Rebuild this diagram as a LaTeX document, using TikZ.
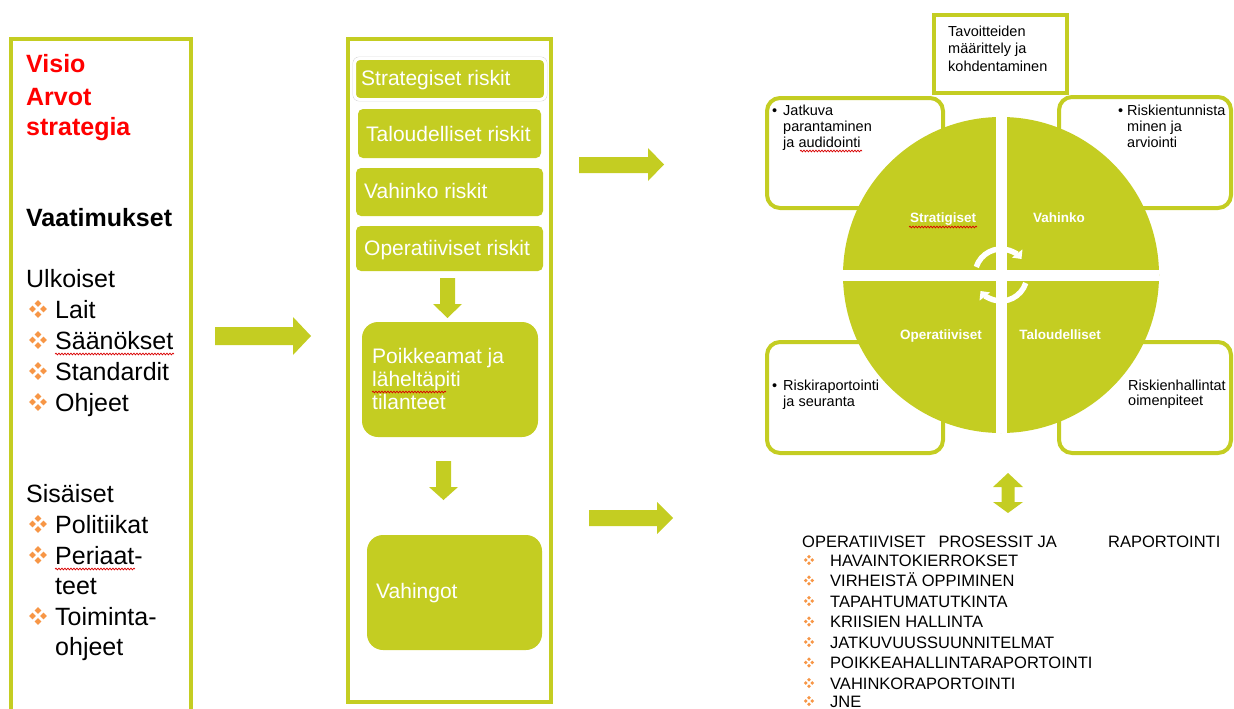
\documentclass[tikz,border=0pt]{standalone}
\usepackage{fontspec}
\setmainfont{Liberation Sans}
\usetikzlibrary{arrows.meta,decorations.pathmorphing,calc}
\definecolor{lime}{RGB}{196,205,34}
\definecolor{bulor}{RGB}{247,150,70}
\tikzset{
  quad/.pic={\foreach \dx/\dy in {-5/0,5/0,0/-5,0/5}{\fill[bulor] (\dx-3,\dy) -- (\dx,\dy-3) -- (\dx+3,\dy) -- (\dx,\dy+3) -- cycle;}},
  frame/.style={draw=lime, line width=4pt},
  big/.style={anchor=base west, inner sep=0pt, font=\fontsize{25}{30}\selectfont},
  bigb/.style={anchor=base west, inner sep=0pt, font=\fontsize{25}{30}\selectfont\bfseries},
  mid/.style={anchor=base west, inner sep=0pt, text=white, font=\fontsize{21}{25}\selectfont},
  small/.style={anchor=base west, inner sep=0pt, font=\fontsize{14.5}{17}\selectfont},
  qlbl/.style={anchor=base, inner sep=0pt, text=white, font=\fontsize{13.5}{16}\selectfont\bfseries},
  lst/.style={anchor=base west, inner sep=0pt, font=\fontsize{16.5}{20}\selectfont},
  rbox/.style={draw=lime, line width=4pt, fill=white, rounded corners=13pt},
  riskbox/.style={fill=lime, rounded corners=5pt},
  bigbox/.style={fill=lime, rounded corners=16pt},
  squig/.style={draw=red!85!black, line width=0.7pt, decorate, decoration={snake, amplitude=0.9pt, segment length=3pt}},
  rot/.style={draw=white, line width=5.5pt, -{Triangle[width=13pt,length=7pt]}}
}
\begin{document}
\begin{tikzpicture}[x=1pt,y=-1pt]
\useasboundingbox (0,0) rectangle (1234,709);

% ---------- left column ----------
\draw[frame] (11,715) -- (11,39) -- (191,39) -- (191,715);
\node[bigb, text=red] (visio) at (26,73) {Visio};
\node[bigb, text=red] (arvot) at (26,105) {Arvot};
\node[bigb, text=red] (strategia) at (26,135) {strategia};
\node[bigb] (vaat) at (26,226) {Vaatimukset};
\node[big] (ulk) at (26,287) {Ulkoiset};
\foreach \t/\y [count=\i] in {Lait/318,Säänökset/349,Standardit/380,Ohjeet/411}{
  \node[big] (u\i) at (55,\y) {\t};
  \pic[scale=1.1] at (38,\y-9) {quad};
}
\node[big] (sis) at (26,502) {Sisäiset};
\foreach \t/\y [count=\i] in {Politiikat/533,Periaat-/564,Toiminta-/625}{
  \node[big] (s\i) at (55,\y) {\t};
  \pic[scale=1.1] at (38,\y-9) {quad};
}
\node[big] (s2b) at (55,594) {teet};
\node[big] (s3b) at (55,655) {ohjeet};
\draw[squig] (55,354) -- (174,354);
\draw[squig] (55,569) -- (135,569);

% arrow left -> middle
\fill[lime] (215,327) -- (293,327) -- (293,317) -- (311,336) -- (293,355) -- (293,345) -- (215,345) -- cycle;

% ---------- middle column ----------
\draw[frame] (348,39) rectangle (551,702);
\draw[draw=gray!30, line width=0.6pt, rounded corners=6pt] (353,57) rectangle (547,101);
\draw[white, line width=3pt, fill=lime, rounded corners=5pt] (354.5,58.5) rectangle (545.5,99.5);
\fill[riskbox] (358,109) rectangle (541,158);
\fill[riskbox] (356,168) rectangle (543,216);
\fill[riskbox] (356,226) rectangle (543,271);
\node[mid] (r1) at (361,85) {Strategiset riskit};
\node[mid] (r2) at (366,141) {Taloudelliset riskit};
\node[mid] (r3) at (364,198) {Vahinko riskit};
\node[mid] (r4) at (364,255) {Operatiiviset riskit};
% down arrow 1
\fill[lime] (440,278) -- (455,278) -- (455,304) -- (462,304) -- (447.5,318) -- (433,304) -- (440,304) -- cycle;
\fill[bigbox] (362,322) rectangle (538,437);
\node[mid] (p1) at (372,363) {Poikkeamat ja};
\node[mid] (p2) at (372,386) {läheltäpiti};
\node[mid] (p3) at (372,409) {tilanteet};
\draw[squig] (372,392) -- (446,392);
% down arrow 2
\fill[lime] (436,461) -- (451,461) -- (451,487) -- (458,487) -- (443.5,500) -- (429,487) -- (436,487) -- cycle;
\fill[bigbox] (367,535) rectangle (542,650);
\node[mid] (vah) at (376,598) {Vahingot};

% arrows middle -> right
\fill[lime] (579,157) -- (648,157) -- (648,148) -- (664,164.5) -- (648,181) -- (648,173) -- (579,173) -- cycle;
\fill[lime] (589,510) -- (657,510) -- (657,502) -- (673,518) -- (657,534) -- (657,526) -- (589,526) -- cycle;

% ---------- right side ----------
\draw[rbox] (767,98) rectangle (943,208);
\draw[rbox] (1059,97) rectangle (1231,208);
\draw[rbox] (767,342) rectangle (943,453);
\draw[rbox] (1059,342) rectangle (1231,453);
\draw[frame, fill=white] (934,15) rectangle (1067,93);

\node[small] (t1) at (948,37) {Tavoitteiden};
\node[small] (t2) at (948,54) {määrittely ja};
\node[small] (t3) at (948,72) {kohdentaminen};

\node[small] (b1) at (772,115) {•};
\node[small] (j1) at (783,115) {Jatkuva};
\node[small] (j2) at (783,131) {parantaminen};
\node[small] (j3) at (783,147) {ja audidointi};
\draw[squig] (800,151) -- (862,151);

\node[small] (b2) at (1118,115) {•};
\node[small] (k1) at (1127,115) {Riskientunnista};
\node[small] (k2) at (1127,131) {minen ja};
\node[small] (k3) at (1127,147) {arviointi};

\node[small] (b3) at (772,390) {•};
\node[small] (m1) at (783,390) {Riskiraportointi};
\node[small] (m2) at (783,406) {ja seuranta};

\node[small] (n1) at (1128,390) {Riskienhallintat};
\node[small] (n2) at (1128,405) {oimenpiteet};

% wheel
\node[circle, fill=lime, minimum size=316pt, inner sep=0pt] (wheel) at (1001,275) {};
\draw[white, line width=11pt] (wheel.north) -- (wheel.south);
\draw[white, line width=11pt] (wheel.west) -- (wheel.east);
\draw[rot] ($(wheel.center)+(198:26)$) arc[start angle=198, end angle=322, radius=26];
\draw[rot] ($(wheel.center)+(18:26)$) arc[start angle=18, end angle=142, radius=26];

\node[qlbl] (q1) at (943,222) {Stratigiset};
\node[qlbl] (q2) at (1059,222) {Vahinko};
\node[qlbl] (q3) at (941,339) {Operatiiviset};
\node[qlbl] (q4) at (1060,339) {Taloudelliset};
\draw[squig] (909,227) -- (977,227);

% double arrow
\fill[lime] (1008,473) -- (1023,487) -- (1014.5,487) -- (1014.5,502) -- (1023,502) -- (1008,513) -- (993,502) -- (1001.5,502) -- (1001.5,487) -- (993,487) -- cycle;

% bottom list
\node[lst] (hdr) at (802,547) {OPERATIIVISET\hspace{13pt}PROSESSIT JA};
\node[lst] (hdr2) at (1108,547) {RAPORTOINTI};
\foreach \t/\y [count=\i] in {HAVAINTOKIERROKSET/566,VIRHEISTÄ OPPIMINEN/586.5,TAPAHTUMATUTKINTA/607,KRIISIEN HALLINTA/627.5,JATKUVUUSSUUNNITELMAT/648,POIKKEAHALLINTARAPORTOINTI/668.5,VAHINKORAPORTOINTI/689,JNE/707}{
  \node[lst] (l\i) at (830,\y) {\t};
  \pic[scale=0.65] at (809,\y-6) {quad};
}
\end{tikzpicture}
\end{document}
